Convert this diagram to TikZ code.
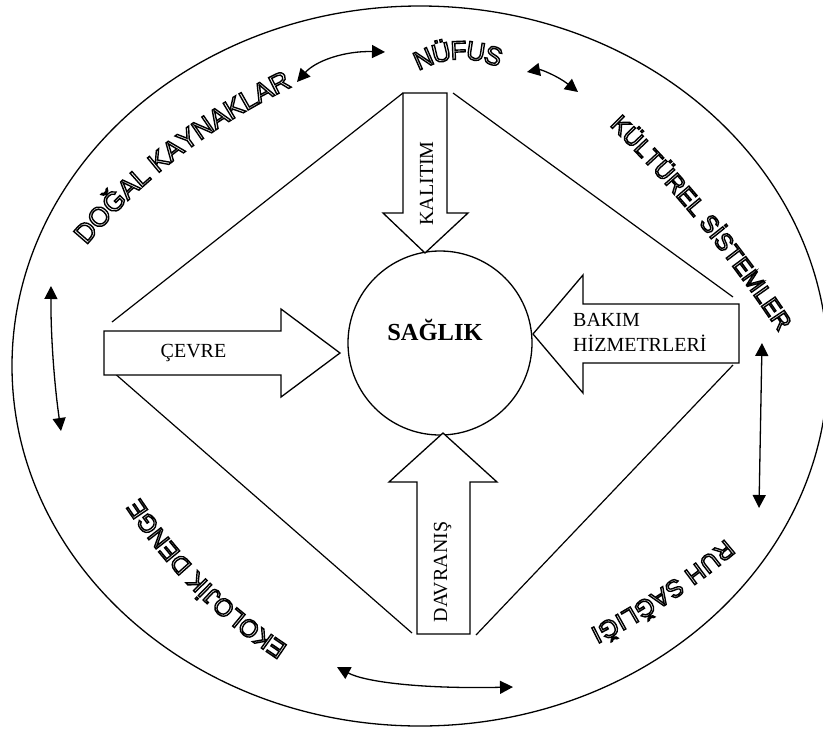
\documentclass[tikz,border=0pt]{standalone}
\usepackage{fontspec}
\setmainfont{Liberation Serif}
\newfontfamily\ringface{Liberation Sans}
\usetikzlibrary{arrows.meta,decorations.text}

% stroked (hollow) sans lettering for the labels set round the ring
\protected\def\hollow#1{\ringface\fontsize{#1}{#1}\selectfont\special{pdf:literal direct 1 Tr 1.4 w}}

\tikzset{
  rim/.style={line width=1.3pt},
  frame/.style={line width=1.2pt},
  blockarrow/.style={draw, line width=1.3pt, fill=white, line join=miter},
  link/.style={line width=1.3pt, {Triangle[length=13pt,width=13pt]}-{Triangle[length=13pt,width=13pt]}},
  label/.style={font=\fontsize{20}{25}\selectfont, inner sep=0pt},
  % #1 font size, #2 shift that centres the capitals on the path, #3 text
  ringlabel/.style n args={3}{decorate, decoration={text along path, text align={fit to path}, raise=#2, text={|\hollow{#1}|#3}}},
}

\begin{document}
\begin{tikzpicture}[x=1pt,y=-1pt]
\useasboundingbox (0,0) rectangle (823,729);
\clip (0,0) rectangle (823,729);

% outer ring
\draw[rim] (420,366) ellipse [x radius=408pt, y radius=360pt];

% central circle
\node[circle, draw, rim, minimum size=184pt, inner sep=0pt] (core) at (440,343) {};
\node[font=\fontsize{24.5}{26}\selectfont\bfseries, inner sep=0pt, anchor=base] (saglik) at (435,340) {SAĞLIK};

% corner points of the frame lines
\coordinate (kA) at (403,93);
\coordinate (fUL) at (112,322);
\coordinate (fURa) at (453,93);
\coordinate (fURb) at (733,297);
\coordinate (fLLa) at (105,365);
\coordinate (fLLb) at (412,633);
\coordinate (fLRa) at (733,365);
\coordinate (fLRb) at (476,635);
\draw[frame] (kA) -- (fUL);
\draw[frame] (fURa) -- (fURb);
\draw[frame] (fLLa) -- (fLLb);
\draw[frame] (fLRa) -- (fLRb);

% block arrow from above
\draw[blockarrow] (kA) -- (447,93) -- (447,213) -- (468,213) -- (425,253) -- (383,213) -- (403,213) -- cycle;
\node[label, rotate=90, anchor=base] (kalitim) at (433,183.5) {KALITIM};

% block arrow from the left
\draw[blockarrow] (104,331) -- (281,331) -- (281,309) -- (340,353) -- (281,397) -- (281,375) -- (104,375) -- cycle;
\node[label, anchor=base] (cevre) at (193.5,357) {ÇEVRE};

% block arrow from the right
\draw[blockarrow] (739,304) -- (583,304) -- (583,275) -- (533,334) -- (583,393) -- (583,363) -- (739,363) -- cycle;
\node[label, align=left, anchor=north west] (bakim) at (573,313.5) {BAKIM\\HİZMETRLERİ};

% block arrow from below
\draw[blockarrow] (417,634) -- (417,482) -- (389,482) -- (443,433) -- (497,482) -- (470,482) -- (470,634) -- cycle;
\node[label, rotate=90, anchor=base] (davranis) at (447,572) {DAVRANIŞ};

% labels round the ring, each path running through the middle of its capitals
\path[ringlabel={27}{-9.7pt}{DOĞAL KAYNAKLAR}] (79,239) .. controls (136,171.3) and (205.7,117.7) .. (288,78);
\path[ringlabel={26}{-9.3pt}{NÜFUS}] (414.8,62.5) .. controls (443.5,47.1) and (472.4,45.8) .. (501.6,58.7);
\path[ringlabel={24}{-8.6pt}{KÜLTÜREL SİSTEMLER}] (615.6,119.3) .. controls (679.7,182.8) and (736.5,252.2) .. (786.1,327.5);
\path[ringlabel={24.5}{-8.8pt}{RUH SAĞLIĞI}] (731.2,545.6) .. controls (689.1,581.6) and (643.3,612) .. (593.8,636.8);
\path[ringlabel={24.5}{-8.8pt}{EKOLOJİK DENGE}] (283.1,653.1) .. controls (222.5,613.4) and (172.3,563.2) .. (132.4,502.6);

% two-way links between neighbouring labels
\coordinate (l1a) at (297,82);
\coordinate (l1b) at (385,52);
\coordinate (l2a) at (527,72);
\coordinate (l2b) at (578,92);
\coordinate (l3a) at (762,343);
\coordinate (l3b) at (759,508);
\coordinate (l4a) at (513,687);
\coordinate (l4b) at (337,667);
\coordinate (l5a) at (61,431);
\coordinate (l5b) at (51,286);
\draw[link] (l1a) .. controls (315.7,60.7) and (345,50.7) .. (l1b);
\draw[link] (l2a) .. controls (540.7,69.3) and (557.7,76) .. (l2b);
\draw[link] (l3a) -- (l3b);
\draw[link] (l4a) .. controls (424.3,689) and (365.7,682.3) .. (l4b);
\draw[link] (l5a) .. controls (54,382) and (50.7,333.7) .. (l5b);
\end{tikzpicture}
\end{document}
